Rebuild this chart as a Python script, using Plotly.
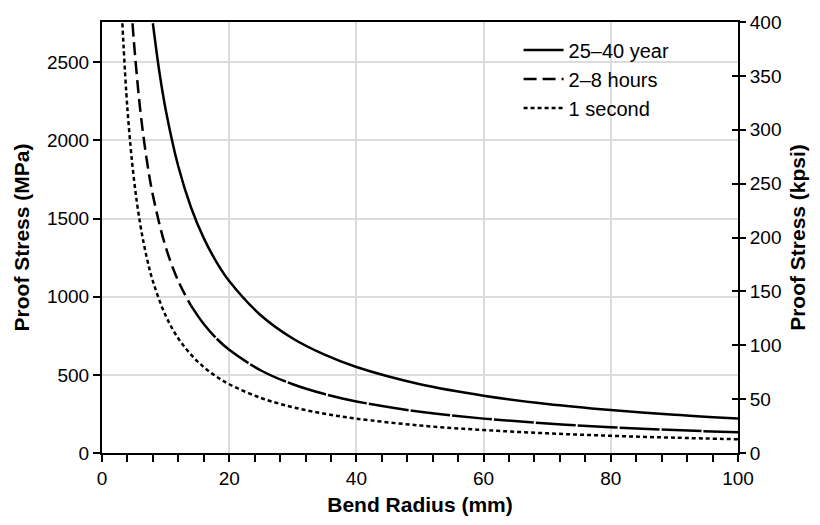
import plotly.graph_objects as go

# Data (Bend radius in mm, proof stress in MPa)
x_year = [8, 9, 10, 12, 14, 16, 18, 20, 25, 30, 35, 40, 50, 60, 70, 80, 90, 100]
y_year = [2750, 2444, 2200, 1833, 1571, 1375, 1222, 1100, 880, 733, 629, 550, 440, 367, 314, 275, 244, 220]

x_hours = [4.8, 5, 6, 7, 8, 10, 12, 14, 16, 18, 20, 25, 30, 35, 40, 50, 60, 70, 80, 90, 100]
y_hours = [2750, 2640, 2200, 1886, 1650, 1320, 1100, 943, 825, 733, 660, 528, 440, 377, 330, 264, 220, 189, 165, 147, 132]

x_sec = [3.2, 4, 5, 6, 7, 8, 10, 12, 14, 16, 18, 20, 25, 30, 35, 40, 50, 60, 70, 80, 90, 100]
y_sec = [2750, 2200, 1760, 1467, 1257, 1100, 880, 733, 629, 550, 489, 440, 352, 293, 251, 220, 176, 147, 126, 110, 98, 88]

names = ["25\u201340 year", "2\u20138 hours", "1 second"]
kpsi_max = 400
mpa_per_kpsi = 6.894757
mpa_max = kpsi_max * mpa_per_kpsi

FONT = "Liberation Sans, Arial, Helvetica, sans-serif"
TICK = 19
TITLE = 21

fig = go.Figure()
fig.add_trace(go.Scatter(x=x_year, y=y_year, mode="lines", name=names[0], line_shape="spline",
                         line=dict(color="black", width=2.5)))
# the 2-8 hours curve: long dashes on the steep part, nearly continuous afterwards
split = x_hours.index(14)
fig.add_trace(go.Scatter(x=x_hours[:split + 1], y=y_hours[:split + 1], mode="lines", name=names[1],
                         legendgroup="h", line_shape="spline",
                         line=dict(color="black", width=2.5, dash="13px,6px")))
fig.add_trace(go.Scatter(x=x_hours[split:], y=y_hours[split:], mode="lines", name=names[1],
                         legendgroup="h", showlegend=False, line_shape="spline",
                         line=dict(color="black", width=2.5, dash="40px,2px")))
fig.add_trace(go.Scatter(x=x_sec, y=y_sec, mode="lines", name=names[2], line_shape="spline",
                         line=dict(color="black", width=2.5, dash="4px,3px")))

# invisible traces to activate secondary axes
fig.add_trace(go.Scatter(x=[0], y=[0], yaxis="y2", mode="lines", showlegend=False,
                         hoverinfo="skip", line=dict(width=0)))
fig.add_trace(go.Scatter(x=[0], y=[0], yaxis="y3", mode="lines", showlegend=False,
                         hoverinfo="skip", line=dict(width=0)))

fig.update_layout(
    width=820, height=525,
    margin=dict(l=102, r=82, t=18, b=72),
    paper_bgcolor="white", plot_bgcolor="white",
    font=dict(family=FONT, size=TICK, color="black"),
    showlegend=True,
    legend=dict(x=0.655, y=0.98, xanchor="left", yanchor="top",
                bgcolor="rgba(0,0,0,0)", font=dict(size=20),
                tracegroupgap=0, itemwidth=40),
    xaxis=dict(
        range=[0, 100], dtick=20, tick0=0,
        showline=True, linecolor="black", linewidth=2, mirror=True,
        ticks="outside", ticklen=7, tickwidth=1.5, tickcolor="black",
        minor=dict(dtick=4, ticks="outside", ticklen=7, tickwidth=1.5, tickcolor="black", showgrid=False),
        showgrid=True, gridcolor="#dcdcdc", gridwidth=1.5,
        zeroline=False,
        tickfont=dict(size=TICK),
        title=dict(text="Bend Radius (mm)", font=dict(size=TITLE, weight="bold"), standoff=10),
    ),
    yaxis=dict(
        range=[0, mpa_max], dtick=500, tick0=0,
        showline=True, linecolor="black", linewidth=2,
        ticks="outside", ticklen=7, tickwidth=1.5, tickcolor="black",
        showgrid=True, gridcolor="#dcdcdc", gridwidth=1.5,
        zeroline=False,
        tickfont=dict(size=TICK),
        title=dict(text="Proof Stress (MPa)", font=dict(size=TITLE, weight="bold"), standoff=12),
    ),
    yaxis2=dict(
        range=[0, kpsi_max], dtick=50, tick0=0,
        overlaying="y", side="right",
        showline=True, linecolor="black", linewidth=2,
        ticks="outside", ticklen=6, tickwidth=1.5, tickcolor="black",
        showgrid=False, zeroline=False,
        tickfont=dict(size=TICK),
        title=dict(text="Proof Stress (kpsi)", font=dict(size=TITLE, weight="bold"), standoff=10),
    ),
    yaxis3=dict(
        range=[0, kpsi_max], dtick=50, tick0=0,
        overlaying="y", side="right",
        showline=False, showticklabels=False,
        ticks="inside", ticklen=6, tickwidth=1.5, tickcolor="black",
        showgrid=False, zeroline=False,
    ),
)

fig.write_html("out.html")
